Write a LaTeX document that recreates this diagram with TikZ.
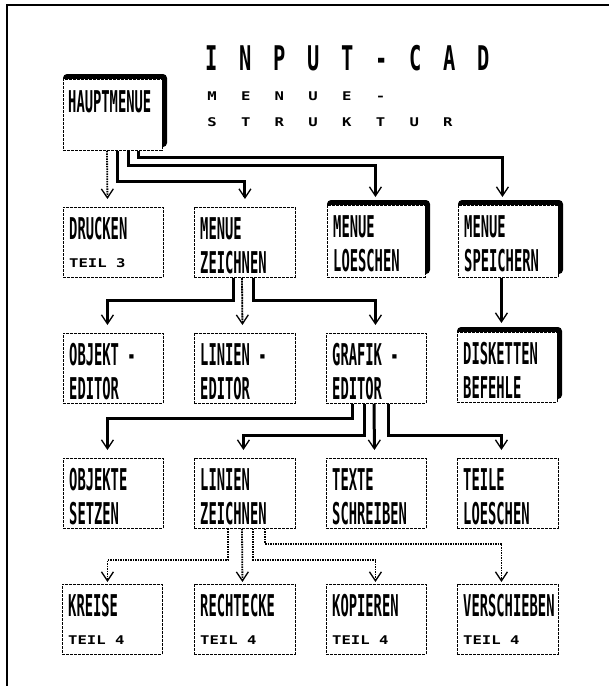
\documentclass[tikz,border=0pt]{standalone}
\usepackage{fontspec}
\usetikzlibrary{arrows.meta,calc}
\newfontfamily\boxfont[FakeStretch=0.46]{DejaVu Sans Mono}
\newfontfamily\tinyfont[FakeStretch=1.3]{DejaVu Sans Mono}
\newfontfamily\titfont[FakeStretch=0.6]{DejaVu Sans Mono}
\tikzset{
  box/.style={draw, line width=0.9pt, dash pattern=on 3pt off 1pt, fill=white,
    minimum height=70pt, inner sep=0pt, anchor=north west},
  big/.style={inner sep=0pt, anchor=base west, font={\boxfont\bfseries\fontsize{30pt}{30pt}\selectfont}},
  small/.style={inner sep=0pt, anchor=base west, font={\tinyfont\bfseries\fontsize{12pt}{12pt}\selectfont}},
  tletter/.style={inner sep=0pt, anchor=base, font={\titfont\bfseries\fontsize{34pt}{34pt}\selectfont}},
  sletter/.style={inner sep=0pt, anchor=base, font={\tinyfont\bfseries\fontsize{12pt}{12pt}\selectfont}},
  arr/.style={-{Straight Barb[length=9pt,width=12pt,line width=1.3pt]}},
  thk/.style={arr, line width=3pt},
  dotc/.style={arr, line width=1.8pt, dash pattern=on 1.5pt off 1pt},
  mid/.style={arr, line width=1.8pt, dash pattern=on 2pt off 0.7pt},
}
% plain box: name, x, y, width
\newcommand\pframe[4]{\node[box, minimum width=#4pt] (#1) at (#2,#3) {};}
% shadowed box: name, x, y, outer width, outer height
\newcommand\myshframe[5]{%
  \fill[rounded corners=4pt] (#2,#3) rectangle ++(#4,#5-3);
  \node[box, minimum width=#4pt-5pt, minimum height=#5pt-5pt] (#1) at (#2,#3+5) {};}
\newcommand\twolns[3]{%
  \node[big] (#1-a) at ($(#1.north west)+(6,32)$) {#2};
  \node[big] (#1-b) at ($(#1.north west)+(6,66)$) {#3};}
\newcommand\teillns[3]{%
  \node[big] (#1-a) at ($(#1.north west)+(6,32)$) {#2};
  \node[small] (#1-b) at ($(#1.north west)+(6,60)$) {#3};}
\begin{document}
\begin{tikzpicture}[x=1pt,y=-1pt]
\useasboundingbox (0,0) rectangle (609,686);
\fill[white] (0,0) rectangle (609,686);
% outer frame
\draw[line width=2.5pt] (7,686) -- (7,5) -- (609,5);
% title
\foreach \c [count=\i from 0] in {I,N,P,U,T,-,C,A,D}
  \node[tletter] (title\i) at (212+34*\i,70) {\c};
\foreach \c [count=\i from 0] in {M,E,N,U,E,-}
  \node[sletter] (sub\i) at (212+33.7*\i,100) {\c};
\foreach \c [count=\i from 0] in {S,T,R,U,K,T,U,R}
  \node[sletter] (str\i) at (212+33.7*\i,126) {\c};
% row 1
\myshframe{haupt}{63}{74}{104}{76}
\node[big] (haupt-a) at ($(haupt.north west)+(5,33)$) {HAUPTMENUE};
% row 2
\pframe{drucken}{63}{207}{100}
\teillns{drucken}{DRUCKEN}{TEIL 3}
\pframe{mzeich}{194}{207}{101}
\twolns{mzeich}{MENUE}{ZEICHNEN}
\myshframe{mloesch}{327}{200}{103}{77}
\twolns{mloesch}{MENUE}{LOESCHEN}
\myshframe{mspeich}{458}{200}{105}{77}
\twolns{mspeich}{MENUE}{SPEICHERN}
% row 3
\pframe{objed}{63}{333}{100}
\twolns{objed}{OBJEKT -}{EDITOR}
\pframe{linied}{194}{333}{101}
\twolns{linied}{LINIEN -}{EDITOR}
\pframe{grafed}{326}{333}{100}
\twolns{grafed}{GRAFIK -}{EDITOR}
\myshframe{disk}{457}{327}{105}{75}
\twolns{disk}{DISKETTEN}{BEFEHLE}
% row 4
\pframe{objset}{63}{458}{100}
\twolns{objset}{OBJEKTE}{SETZEN}
\pframe{linzei}{194}{458}{101}
\twolns{linzei}{LINIEN}{ZEICHNEN}
\pframe{texte}{326}{458}{100}
\twolns{texte}{TEXTE}{SCHREIBEN}
\pframe{teile}{457}{458}{101}
\twolns{teile}{TEILE}{LOESCHEN}
% row 5
\pframe{kreise}{62}{584}{100}
\teillns{kreise}{KREISE}{TEIL 4}
\pframe{recht}{194}{584}{101}
\teillns{recht}{RECHTECKE}{TEIL 4}
\pframe{kopier}{326}{584}{100}
\teillns{kopier}{KOPIEREN}{TEIL 4}
\pframe{versch}{457}{584}{101}
\teillns{versch}{VERSCHIEBEN}{TEIL 4}
% connectors from HAUPTMENUE
\draw[dotc] ([xshift=44pt]haupt.south west) -- ([xshift=-6pt,yshift=8pt]drucken.north);
\draw[thk] ([xshift=54pt]haupt.south west) -- ++(0,31) -| ([yshift=8pt]mzeich.north);
\draw[thk] ([xshift=65pt]haupt.south west) -- ++(0,15) -| ([xshift=-1pt,yshift=8pt]mloesch.north);
\draw[thk] ([xshift=75pt]haupt.south west) -- ++(0,7) -| ([xshift=-6pt,yshift=8pt]mspeich.north);
% from MENUE ZEICHNEN
\draw[thk] ([xshift=39pt]mzeich.south west) -- ++(0,23) -| ([xshift=-6pt,yshift=8pt]objed.north);
\draw[mid] ([xshift=48pt]mzeich.south west) -- ([xshift=-2.5pt,yshift=8pt]linied.north);
\draw[thk] ([xshift=59pt]mzeich.south west) -- ++(0,23) -| ([xshift=-1pt,yshift=8pt]grafed.north);
% from MENUE SPEICHERN
\draw[thk] ([xshift=-7pt]mspeich.south) -- ([xshift=-6pt,yshift=9pt]disk.north);
% from GRAFIK-EDITOR
\draw[thk] ([xshift=26pt]grafed.south west) -- ++(0,15) -| ([xshift=-6pt,yshift=8pt]objset.north);
\draw[thk] ([xshift=38pt]grafed.south west) -- ++(0,32) -| ([xshift=-1.5pt,yshift=8pt]linzei.north);
\draw[thk] ([xshift=48pt]grafed.south west) -- ([xshift=-2pt,yshift=8pt]texte.north);
\draw[thk] ([xshift=62pt]grafed.south west) -- ++(0,32) -| ([xshift=-6.5pt,yshift=8pt]teile.north);
% from LINIEN ZEICHNEN
\draw[dotc] ([xshift=34pt]linzei.south west) -- ++(0,31) -| ([xshift=-5pt,yshift=2pt]kreise.north);
\draw[dotc] ([xshift=48pt]linzei.south west) -- ([xshift=-2.5pt,yshift=2pt]recht.north);
\draw[dotc] ([xshift=59pt]linzei.south west) -- ++(0,31) -| ([xshift=-1pt,yshift=2pt]kopier.north);
\draw[dotc] ([xshift=71pt]linzei.south west) -- ++(0,15) -| ([xshift=-6.5pt,yshift=2pt]versch.north);
\end{tikzpicture}
\end{document}
